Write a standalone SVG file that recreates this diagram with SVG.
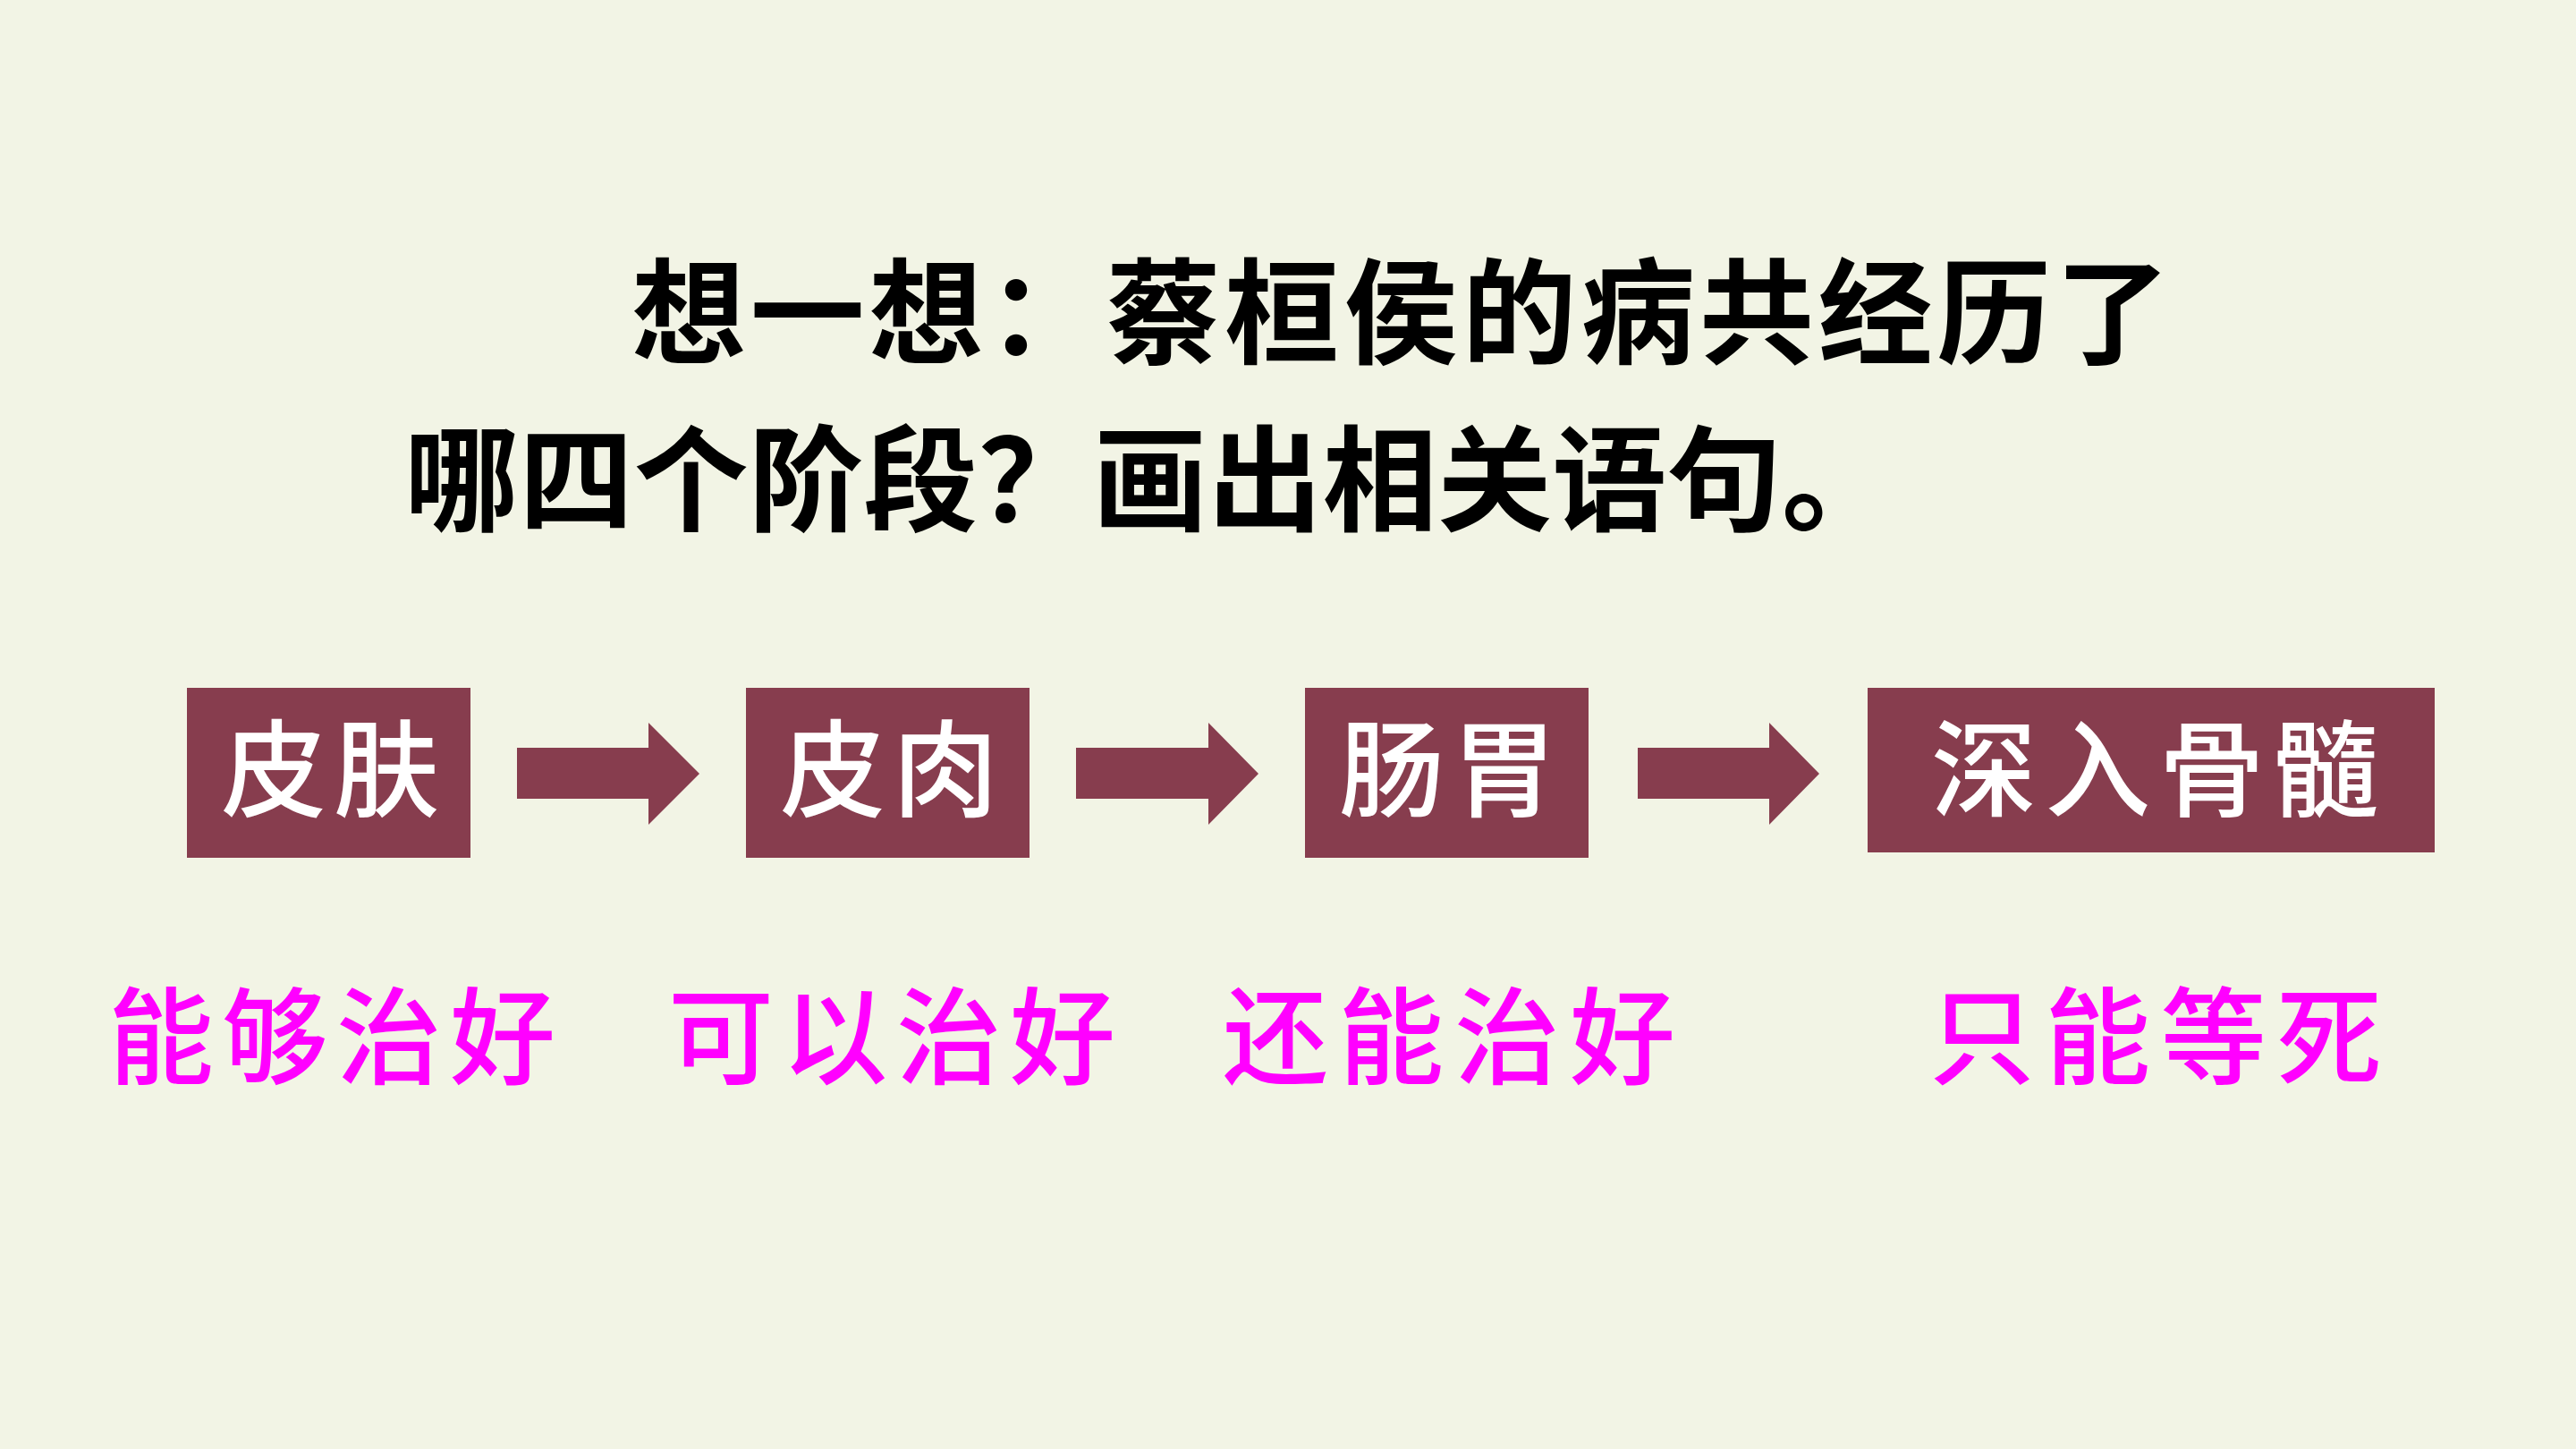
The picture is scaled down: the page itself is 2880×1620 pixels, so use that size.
<svg xmlns="http://www.w3.org/2000/svg" width="2880" height="1620" viewBox="0 0 2880 1620">
<style>
.title{font-family:"Noto Sans CJK SC","Noto Sans CJK JP",sans-serif;font-weight:700;font-size:128px;fill:#000}
.box{fill:#873D4E}
.btxt{font-family:"Noto Sans CJK SC","Noto Sans CJK JP",sans-serif;font-weight:500;font-size:118px;fill:#fff;text-anchor:middle}
.pink{font-family:"Noto Sans CJK SC","Noto Sans CJK JP",sans-serif;font-weight:500;font-size:118px;fill:#FF00FF}
.arr{fill:#873D4E}
</style>
<rect width="2880" height="1620" fill="#F2F4E5"/>
<g id="title">
<text class="title" x="706" y="397" textLength="1720" lengthAdjust="spacing">想一想：蔡桓侯的病共经历了</text>
<text class="title" x="452" y="584" textLength="1668" lengthAdjust="spacing">哪四个阶段？画出相关语句。</text>
</g>
<g id="node-pifu">
<rect class="box" x="209" y="769" width="317" height="190"/>
<text class="btxt" x="369" y="904" textLength="244" lengthAdjust="spacing">皮肤</text>
</g>
<g id="node-pirou">
<rect class="box" x="834" y="769" width="317" height="190"/>
<text class="btxt" x="994" y="904" textLength="244" lengthAdjust="spacing">皮肉</text>
</g>
<g id="node-changwei">
<rect class="box" x="1459" y="769" width="317" height="190"/>
<text class="btxt" x="1619" y="904" textLength="244" lengthAdjust="spacing">肠胃</text>
</g>
<g id="node-gusui">
<rect class="box" x="2088" y="769" width="634" height="184"/>
<text class="btxt" x="2409" y="904" textLength="500" lengthAdjust="spacing">深入骨髓</text>
</g>
<g id="connectors">
<polygon class="arr" points="578,836 725,836 725,808 782,865 725,922 725,893 578,893"/>
<polygon class="arr" points="1203,836 1351,836 1351,808 1407,865 1351,922 1351,893 1203,893"/>
<polygon class="arr" points="1831,836 1978,836 1978,808 2034,865 1978,922 1978,893 1831,893"/>
</g>
<g id="labels">
<text class="pink" x="121" y="1203" textLength="500" lengthAdjust="spacing">能够治好</text>
<text class="pink" x="747" y="1203" textLength="500" lengthAdjust="spacing">可以治好</text>
<text class="pink" x="1367" y="1203" textLength="506" lengthAdjust="spacing">还能治好</text>
<text class="pink" x="2157" y="1203" textLength="506" lengthAdjust="spacing">只能等死</text>
</g>
</svg>
